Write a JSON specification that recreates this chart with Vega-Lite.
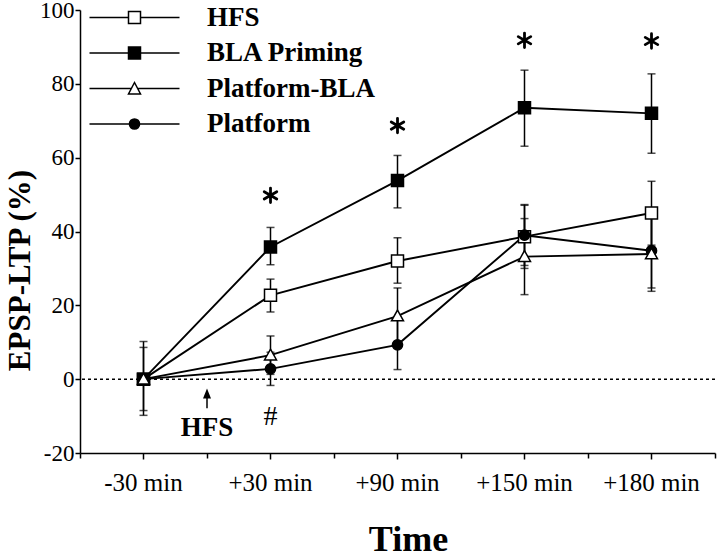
{
  "$schema": "https://vega.github.io/schema/vega-lite/v6.json",
  "width": 635,
  "height": 443,
  "autosize": {"type": "none"},
  "padding": {"left": 80, "top": 10, "right": 5, "bottom": 105},
  "background": "white",
  "config": {
    "view": {"stroke": null},
    "font": "Liberation Serif",
    "axis": {
      "domainColor": "black", "domainWidth": 1.5, "tickColor": "black", "tickWidth": 1.5,
      "labelColor": "black", "labelFont": "Liberation Serif", "labelFontSize": 25,
      "titleFont": "Liberation Serif", "titleFontWeight": "bold", "titleColor": "black", "grid": false
    },
    "legend": {
      "title": null, "orient": "none", "legendX": 41, "legendY": -6,
      "labelFont": "Liberation Serif", "labelFontSize": 27, "labelFontWeight": "bold", "labelColor": "black",
      "labelOffset": 59, "labelLimit": 0, "rowPadding": 7.5, "symbolSize": 144, "padding": 0
    }
  },
  "datasets": {
    "series": [
      {"time": "-30 min", "group": "HFS", "mean": 0, "lo": -9.8, "hi": 10.2},
      {"time": "+30 min", "group": "HFS", "mean": 22.7, "lo": 18.2, "hi": 27.1},
      {"time": "+90 min", "group": "HFS", "mean": 32, "lo": 26, "hi": 38.3},
      {"time": "+150 min", "group": "HFS", "mean": 38.6, "lo": 30, "hi": 47.3},
      {"time": "+180 min", "group": "HFS", "mean": 45, "lo": 36.3, "hi": 53.6},
      {"time": "-30 min", "group": "BLA Priming", "mean": 0, "lo": -8.5, "hi": 8.6},
      {"time": "+30 min", "group": "BLA Priming", "mean": 35.8, "lo": 31, "hi": 41.1},
      {"time": "+90 min", "group": "BLA Priming", "mean": 53.8, "lo": 46.4, "hi": 60.6},
      {"time": "+150 min", "group": "BLA Priming", "mean": 73.5, "lo": 63.1, "hi": 83.7},
      {"time": "+180 min", "group": "BLA Priming", "mean": 72, "lo": 61.2, "hi": 82.7},
      {"time": "-30 min", "group": "Platform", "mean": 0, "lo": 0, "hi": 0},
      {"time": "+30 min", "group": "Platform", "mean": 2.8, "lo": -1.7, "hi": 7.3},
      {"time": "+90 min", "group": "Platform", "mean": 9.3, "lo": 2.6, "hi": 16},
      {"time": "+150 min", "group": "Platform", "mean": 39, "lo": 30.8, "hi": 47.1},
      {"time": "+180 min", "group": "Platform", "mean": 34.8, "lo": 24.7, "hi": 44.8},
      {"time": "-30 min", "group": "Platform-BLA", "mean": 0, "lo": 0, "hi": 0},
      {"time": "+30 min", "group": "Platform-BLA", "mean": 6.5, "lo": 1.3, "hi": 11.7},
      {"time": "+90 min", "group": "Platform-BLA", "mean": 17.1, "lo": 9.5, "hi": 24.7},
      {"time": "+150 min", "group": "Platform-BLA", "mean": 33.2, "lo": 22.9, "hi": 43.5},
      {"time": "+180 min", "group": "Platform-BLA", "mean": 33.9, "lo": 23.8, "hi": 44}
    ],
    "stars": [
      {"time": "+30 min", "value": 49.8},
      {"time": "+90 min", "value": 68.7},
      {"time": "+150 min", "value": 91.8},
      {"time": "+180 min", "value": 91.6}
    ]
  },
  "layer": [
    {
      "data": {"values": [{"level": 0}]},
      "mark": {"type": "rule", "strokeDash": [3, 3], "strokeWidth": 1.5, "color": "black"},
      "encoding": {"y": {"field": "level", "type": "quantitative", "title": "EPSP-LTP (%)"}}
    },
    {
      "data": {"name": "series"},
      "mark": {"type": "line", "color": "black", "strokeWidth": 1.9},
      "encoding": {
        "x": {
          "field": "time", "type": "ordinal", "sort": ["-30 min", "+30 min", "+90 min", "+150 min", "+180 min"],
          "scale": {"type": "band", "paddingInner": 0, "paddingOuter": 0},
          "axis": {"orient": "bottom", "labelAngle": 0, "tickSize": 6, "labelPadding": 11, "title": "Time",
                   "titleFontSize": 36, "titleX": 328, "titleY": 97, "titleBaseline": "alphabetic", "titleAlign": "center"}
        },
        "y": {
          "field": "mean", "type": "quantitative", "title": "EPSP-LTP (%)",
          "scale": {"domain": [-20, 100], "nice": false, "zero": false},
          "axis": {"values": [-20, 0, 20, 40, 60, 80, 100], "labelExpr": "'' + datum.value", "tickSize": 5, "labelPadding": 1, "labelFontSize": 23,
                   "titleFontSize": 31, "titleAngle": 270, "titleX": -51, "titleY": 260, "titleBaseline": "alphabetic", "titleAlign": "center"}
        },
        "detail": {"field": "group"}
      }
    },
    {
      "data": {"name": "series"},
      "mark": {"type": "errorbar", "ticks": {"size": 8, "thickness": 1.5, "color": "black"}, "rule": {"strokeWidth": 1.5, "color": "black"}},
      "encoding": {
        "x": {
          "field": "time", "type": "ordinal", "sort": ["-30 min", "+30 min", "+90 min", "+150 min", "+180 min"],
          "axis": {"orient": "bottom", "labels": false, "domain": false, "tickBand": "extent", "tickSize": 5, "title": null}
        },
        "y": {"field": "lo", "type": "quantitative", "title": "EPSP-LTP (%)"},
        "y2": {"field": "hi"}
      }
    },
    {
      "data": {"name": "series"},
      "mark": {"type": "point", "filled": true, "stroke": "black", "strokeWidth": 1.5, "size": 144, "opacity": 1},
      "encoding": {
        "x": {"field": "time", "type": "ordinal", "sort": ["-30 min", "+30 min", "+90 min", "+150 min", "+180 min"], "axis": null},
        "y": {"field": "mean", "type": "quantitative", "title": "EPSP-LTP (%)"},
        "shape": {
          "field": "group", "type": "nominal",
          "scale": {
            "domain": ["HFS", "BLA Priming", "Platform-BLA", "Platform"],
            "range": ["M-1,-1H1V1H-1Z", "M-1,-1H1V1H-1Z", "M0,-1L1,0.8L-1,0.8Z", "M0,-0.85A0.85,0.85 0 1,1 0,0.85A0.85,0.85 0 1,1 0,-0.85Z"]
          },
          "legend": null
        },
        "fill": {
          "field": "group", "type": "nominal",
          "scale": {"domain": ["HFS", "BLA Priming", "Platform-BLA", "Platform"], "range": ["white", "black", "white", "black"]},
          "legend": null
        }
      }
    },
    {
      "data": {"name": "series"},
      "transform": [{"filter": "false"}],
      "mark": {"type": "point", "filled": true, "stroke": "black", "strokeWidth": 1.5, "size": 144, "opacity": 1},
      "encoding": {
        "x": {"field": "time", "type": "ordinal", "sort": ["-30 min", "+30 min", "+90 min", "+150 min", "+180 min"], "axis": null},
        "y": {"field": "mean", "type": "quantitative", "title": "EPSP-LTP (%)"},
        "shape": {
          "field": "group", "type": "nominal",
          "scale": {
            "domain": ["HFS", "BLA Priming", "Platform-BLA", "Platform"],
            "range": ["M-7.5,0H-1M1,0H7.5M-1,-1H1V1H-1Z", "M-7.5,0H-1M1,0H7.5M-1,-1H1V1H-1Z", "M-7.5,0H-0.53M0.53,0H7.5M0,-1L1,0.9L-1,0.9Z", "M-7.5,0H-0.85M0.85,0H7.5M0,-0.85A0.85,0.85 0 1,1 0,0.85A0.85,0.85 0 1,1 0,-0.85Z"]
          }
        },
        "fill": {
          "field": "group", "type": "nominal",
          "scale": {"domain": ["HFS", "BLA Priming", "Platform-BLA", "Platform"], "range": ["white", "black", "white", "black"]}
        }
      }
    },
    {
      "data": {"name": "stars"},
      "mark": {"type": "point", "shape": "M0,-1L0,1M-0.866,-0.5L0.866,0.5M-0.866,0.5L0.866,-0.5", "size": 210, "filled": false, "stroke": "black", "strokeWidth": 2.8, "strokeCap": "round", "opacity": 1},
      "encoding": {
        "x": {"field": "time", "type": "ordinal", "sort": ["-30 min", "+30 min", "+90 min", "+150 min", "+180 min"], "axis": null},
        "y": {"field": "value", "type": "quantitative", "title": "EPSP-LTP (%)"}
      }
    },
    {
      "data": {"values": [{"time": "-30 min", "value": -13.3, "label": "HFS"}]},
      "mark": {"type": "text", "font": "Liberation Serif", "fontSize": 27, "fontWeight": "bold", "color": "black", "baseline": "middle"},
      "encoding": {
        "x": {"field": "time", "type": "ordinal", "sort": ["-30 min", "+30 min", "+90 min", "+150 min", "+180 min"], "bandPosition": 1, "axis": null},
        "y": {"field": "value", "type": "quantitative", "title": "EPSP-LTP (%)"},
        "text": {"field": "label"}
      }
    },
    {
      "data": {"values": [{"time": "+30 min", "value": -10.3, "label": "#"}]},
      "mark": {"type": "text", "font": "Liberation Serif", "fontSize": 28, "color": "black", "baseline": "middle"},
      "encoding": {
        "x": {"field": "time", "type": "ordinal", "sort": ["-30 min", "+30 min", "+90 min", "+150 min", "+180 min"], "axis": null},
        "y": {"field": "value", "type": "quantitative", "title": "EPSP-LTP (%)"},
        "text": {"field": "label"}
      }
    },
    {
      "data": {"values": [{"time": "-30 min", "from": -7.9, "to": -4.0}]},
      "mark": {"type": "rule", "color": "black", "strokeWidth": 1.5},
      "encoding": {
        "x": {"field": "time", "type": "ordinal", "sort": ["-30 min", "+30 min", "+90 min", "+150 min", "+180 min"], "bandPosition": 1, "axis": null},
        "y": {"field": "from", "type": "quantitative", "title": "EPSP-LTP (%)"},
        "y2": {"field": "to"}
      }
    },
    {
      "data": {"values": [{"time": "-30 min", "tip": -3.85}]},
      "mark": {"type": "point", "shape": "M0,-1L0.8,1L-0.8,1Z", "size": 100, "filled": true, "color": "black", "opacity": 1},
      "encoding": {
        "x": {"field": "time", "type": "ordinal", "sort": ["-30 min", "+30 min", "+90 min", "+150 min", "+180 min"], "bandPosition": 1, "axis": null},
        "y": {"field": "tip", "type": "quantitative", "title": "EPSP-LTP (%)"}
      }
    }
  ],
  "resolve": {"axis": {"x": "independent"}, "scale": {"shape": "independent", "fill": "independent"}}
}
